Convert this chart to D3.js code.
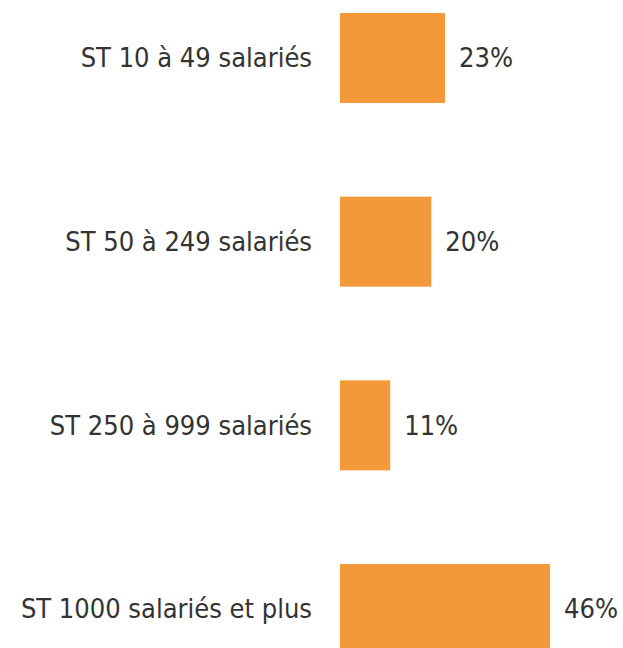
<!DOCTYPE html>
<html>
<head>
<meta charset="utf-8">
<script src="https://cdn.jsdelivr.net/npm/d3@7"></script>
<style>
  body { margin: 0; background: #fff; }
  text { font-family: "DejaVu Sans Condensed", "DejaVu Sans", sans-serif; font-stretch: condensed; fill: #333; }
</style>
</head>
<body>
<svg id="chart"></svg>
<script>
// categories and values
const categories = ["ST 10 à 49 salariés", "ST 50 à 249 salariés", "ST 250 à 999 salariés", "ST 1000 salariés et plus"];
const values = [23, 20, 11, 46];

const width = 623, height = 648;
const barLeft = 340;

const svg = d3.select("#chart")
    .attr("width", width)
    .attr("height", height);

const xScale = d3.scaleLinear()
    .domain([0, 46])
    .range([0, 210]);

const yScale = d3.scaleBand()
    .domain(categories)
    .range([13, 654])
    .paddingInner(0.51)
    .paddingOuter(0);

const data = categories.map((c, i) => ({cat: c, val: values[i]}));

// bars
svg.selectAll("rect.bar")
    .data(data)
    .enter()
    .append("rect")
        .attr("class", "bar")
        .attr("x", barLeft)
        .attr("y", d => yScale(d.cat))
        .attr("width", d => xScale(d.val))
        .attr("height", yScale.bandwidth())
        .attr("fill", "#F39939");

// category labels
svg.selectAll("text.cat")
    .data(data)
    .enter()
    .append("text")
        .attr("class", "cat")
        .attr("x", 312)
        .attr("y", d => yScale(d.cat) + yScale.bandwidth() / 2)
        .attr("dy", "0.34em")
        .attr("text-anchor", "end")
        .attr("font-size", "27px")
        .text(d => d.cat);

// value labels
svg.selectAll("text.val")
    .data(data)
    .enter()
    .append("text")
        .attr("class", "val")
        .attr("x", d => barLeft + xScale(d.val) + 14)
        .attr("y", d => yScale(d.cat) + yScale.bandwidth() / 2)
        .attr("dy", "0.34em")
        .attr("font-size", "27px")
        .text(d => d.val + "%");
</script>
</body>
</html>
